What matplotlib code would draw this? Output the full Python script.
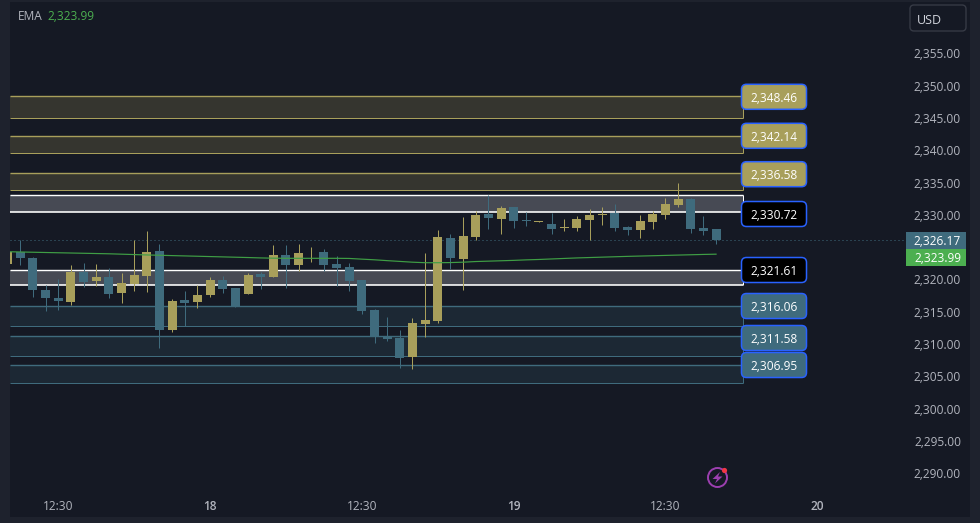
import numpy as np
import matplotlib

matplotlib.use("Agg")
import matplotlib.pyplot as plt
from matplotlib.patches import Circle, FancyBboxPatch, Polygon

# Candles, oldest first, first one is cut off by the left edge
candle_index = list(range(-1, 56))
candle_open = [2322.43, 2324.28, 2323.35, 2318.41, 2317.17, 2316.55, 2321.19, 2319.80, 2320.42, 2317.94,
               2319.34, 2320.57, 2324.44, 2312.23, 2316.86, 2316.55, 2317.64, 2319.95, 2318.72, 2317.79,
               2320.88, 2320.42, 2323.82, 2322.27, 2324.18, 2324.28, 2322.43, 2321.96, 2319.95, 2315.32,
               2311.14, 2310.99, 2308.05, 2313.15, 2313.62, 2326.45, 2323.20, 2326.60, 2330.21, 2329.38,
               2331.24, 2329.23, 2328.92, 2328.61, 2327.99, 2327.99, 2329.23, 2330.00, 2330.31, 2328.15,
               2327.68, 2328.92, 2330.00, 2331.54, 2332.47, 2327.99, 2327.84]
candle_close = [2324.18, 2323.35, 2318.41, 2317.17, 2316.71, 2321.19, 2319.64, 2320.42, 2317.79, 2319.49,
                2320.73, 2324.28, 2312.23, 2316.71, 2316.40, 2317.64, 2319.95, 2318.56, 2315.78, 2320.73,
                2320.42, 2323.82, 2322.27, 2324.13, 2324.28, 2322.27, 2321.81, 2319.80, 2315.16, 2311.14,
                2310.83, 2307.90, 2313.31, 2313.77, 2326.60, 2323.35, 2326.75, 2330.00, 2329.54, 2331.08,
                2329.07, 2329.07, 2329.07, 2327.84, 2328.15, 2329.38, 2330.00, 2330.16, 2327.99, 2327.68,
                2329.07, 2330.16, 2331.70, 2332.47, 2327.84, 2327.53, 2326.17]
candle_high = [2324.18, 2326.14, 2323.51, 2319.18, 2320.11, 2322.27, 2322.58, 2322.43, 2321.81, 2321.04,
               2326.14, 2327.53, 2325.52, 2317.02, 2318.25, 2319.18, 2320.42, 2320.57, 2318.72, 2321.04,
               2321.19, 2325.36, 2325.36, 2325.52, 2325.05, 2324.75, 2323.66, 2322.58, 2319.95, 2315.47,
               2314.24, 2312.23, 2314.08, 2324.13, 2327.68, 2327.06, 2329.69, 2330.62, 2333.09, 2331.39,
               2331.24, 2330.46, 2329.07, 2330.31, 2329.38, 2329.85, 2330.93, 2331.24, 2331.70, 2328.30,
               2330.00, 2330.62, 2332.63, 2334.95, 2332.63, 2329.85, 2327.84]
candle_low = [2322.43, 2322.27, 2317.33, 2315.16, 2315.32, 2316.09, 2318.87, 2319.03, 2317.17, 2316.40,
              2318.25, 2318.10, 2309.44, 2311.92, 2312.84, 2315.63, 2317.33, 2317.94, 2315.78, 2317.79,
              2318.56, 2320.42, 2318.72, 2321.35, 2322.74, 2321.35, 2319.03, 2318.25, 2314.70, 2310.22,
              2310.53, 2306.35, 2306.20, 2311.14, 2313.31, 2321.65, 2318.41, 2326.14, 2327.84, 2327.06,
              2327.99, 2328.30, 2328.92, 2327.06, 2327.53, 2327.53, 2326.14, 2328.45, 2327.53, 2326.91,
              2326.44, 2327.84, 2329.38, 2331.24, 2327.22, 2326.91, 2325.52]
ema_values = [2324.30, 2324.26, 2324.22, 2324.18, 2324.14, 2324.10, 2324.06,
              2324.02, 2323.98, 2323.92, 2323.86, 2323.80, 2323.75, 2323.70,
              2323.65, 2323.60, 2323.55, 2323.50, 2323.45, 2323.40, 2323.34, 2323.30,
              2323.28, 2323.28, 2323.28, 2323.28, 2323.28, 2323.26,
              2323.15, 2323.05, 2322.92, 2322.80, 2322.68, 2322.60,
              2322.60, 2322.62, 2322.68, 2322.78,
              2322.84, 2322.90, 2322.96, 2323.04, 2323.10, 2323.18, 2323.26, 2323.34,
              2323.40, 2323.46, 2323.52, 2323.58, 2323.63, 2323.68, 2323.73, 2323.78, 2323.83, 2323.88, 2323.92]

# Supply / demand boxes
zone_top = [2348.33, 2342.29, 2336.41, 2333.03, 2321.47, 2315.90, 2311.25, 2306.69]
zone_bottom = [2345.00, 2339.58, 2333.85, 2330.45, 2319.10, 2312.76, 2308.11, 2303.98]
zone_kind = ["gold", "gold", "gold", "white", "white", "blue", "blue", "blue"]

level_labels = ["2,348.46", "2,342.14", "2,336.58", "2,330.72", "2,321.61", "2,316.06", "2,311.58", "2,306.95"]
level_kind = ["gold", "gold", "gold", "white", "white", "blue", "blue", "blue"]

price_ticks = [2355, 2350, 2345, 2340, 2335, 2330, 2320, 2315, 2310, 2305, 2300, 2295, 2290]
time_ticks = [3, 15, 27, 39, 51, 63]
time_labels = ["12:30", "18", "12:30", "19", "12:30", "20"]
last_price = 2326.17
ema_last = "2,323.99"

BG = "#151924"
BORDER = "#1e222d"
GOLD = "#a89f5b"
BLUE = "#3f6b7d"
GREEN = "#4caf50"
TEXT = "#b2b5be"
FONT = "Open Sans"
SIZE = 8.6

# pixel layout of the reference
W, H = 980, 523
LEFT, RIGHT, TOP, BOTTOM = 10, 970, 2, 517
PITCH, X0 = 12.65, 20.3
PX_PER_USD, Y2330 = 6.46, 214.9
ZONE_END = (742.5 - X0) / PITCH
PLOT_END = (906 - X0) / PITCH
PX = 0.72  # one pixel in points


def main():
    fig = plt.figure(figsize=(W / 100, H / 100), dpi=100, facecolor=BORDER)
    plt.rcParams["font.family"] = FONT

    ax = fig.add_axes([LEFT / W, 1 - BOTTOM / H, (RIGHT - LEFT) / W, (BOTTOM - TOP) / H], facecolor=BG)
    ax.set_xlim((LEFT - X0) / PITCH, (RIGHT - X0) / PITCH)
    ax.set_ylim(2330 - (BOTTOM - Y2330) / PX_PER_USD, 2330 + (Y2330 - TOP) / PX_PER_USD)
    for spine in ax.spines.values():
        spine.set_visible(False)

    # zones, the top line is doubled in the reference so it reads heavier
    styles = {"gold": ("#35352f", GOLD), "white": ("#474a54", "white"), "blue": ("#1c2834", BLUE)}
    x_start = ax.get_xlim()[0]
    for top, bottom, kind in zip(zone_top, zone_bottom, zone_kind):
        fill, edge = styles[kind]
        ax.fill_between([x_start, ZONE_END], bottom, top, color=fill, lw=0, zorder=1)
        ax.hlines(top, x_start, ZONE_END, color=edge, lw=1.4 * PX, zorder=2)
        ax.hlines(bottom, x_start, ZONE_END, color=edge, lw=PX * (1.6 if kind == "white" else 1), zorder=2)
        ax.vlines(ZONE_END, bottom, top, color=edge, lw=PX, zorder=2)

    # candles
    x = np.array(candle_index)
    opens = np.array(candle_open)
    closes = np.array(candle_close)
    colors = [GOLD if c >= o else BLUE for o, c in zip(opens, closes)]
    ax.vlines(x, candle_low, candle_high, color=colors, lw=PX, zorder=3)
    ax.bar(x, np.abs(closes - opens), bottom=np.minimum(opens, closes), width=9 / PITCH, color=colors, lw=0, zorder=4)

    ax.plot(x, ema_values, color="#3f9e45", lw=PX * 1.2, zorder=5)
    ax.hlines(last_price, x_start, PLOT_END, color=BLUE, lw=PX, linestyles=(0, (1, 3)), zorder=2)

    # axes labels sit inside the axes area
    ax.yaxis.tick_right()
    ax.set_yticks(price_ticks)
    ax.set_yticklabels([f"{p:,.2f}" for p in price_ticks], ha="right", va="center_baseline", color=TEXT, fontsize=SIZE)
    ax.tick_params(axis="y", length=0, pad=-6.5)
    ax.set_xticks(time_ticks)
    ax.set_xticklabels(time_labels, color=TEXT, fontsize=SIZE, va="center_baseline")
    ax.tick_params(axis="x", length=0, pad=-9.0)
    for label in ax.get_xticklabels():
        if ":" not in label.get_text():
            label.set_fontweight("semibold")

    # overlay in pixel coordinates for the tags and buttons
    over = fig.add_axes([0, 0, 1, 1], facecolor="none")
    over.set_xlim(0, W)
    over.set_ylim(H, 0)
    over.axis("off")

    level_y = [96.8, 135.8, 174.2, 214, 270, 306, 338, 365]
    fills = {"gold": GOLD, "white": "black", "blue": BLUE}
    for text, kind, y in zip(level_labels, level_kind, level_y):
        over.add_patch(FancyBboxPatch((744.5, y - 9.5), 59, 19, boxstyle="round,pad=3,rounding_size=5",
                                      fc=fills[kind], ec="#2962ff", lw=1.1, zorder=6))
        over.text(774, y, text, color="white", fontsize=SIZE, ha="center", va="center_baseline", zorder=7)

    # last price and EMA tags
    over.fill_between([906, 966], 232, 249, color=BLUE, lw=0)
    over.fill_between([906, 966], 249, 266, color=GREEN, lw=0)
    over.text(961, 240.3, f"{last_price:,.2f}", color="white", fontsize=SIZE, ha="right", va="center_baseline")
    over.text(961, 257, ema_last, color="white", fontsize=SIZE, ha="right", va="center_baseline")

    # header
    over.text(18, 15.5, "EMA", color=TEXT, fontsize=SIZE, ha="left", va="center_baseline")
    over.text(47, 15.5, ema_last, color=GREEN, fontsize=SIZE, ha="left", va="center_baseline")
    over.add_patch(FancyBboxPatch((914, 9), 48, 18, boxstyle="round,pad=4,rounding_size=4", fc=BG, ec="#363a45", lw=1))
    over.text(929.7, 18.5, "USD", color="#d1d4dc", fontsize=9, ha="center", va="center_baseline")

    # lightning badge
    purple = "#9c3fb0"
    over.add_patch(Circle((717.5, 477.5), 9.5, fc="none", ec=purple, lw=1.4))
    over.add_patch(Polygon([(720, 472), (712.5, 479), (717, 479), (715, 483.5), (722.5, 476.5), (718, 476.5)], fc=purple, lw=0))
    over.add_patch(Circle((724.5, 470.5), 2.6, fc="#f23645", lw=0))

    fig.savefig("out.png", dpi=100, facecolor=fig.get_facecolor())


if __name__ == "__main__":
    main()
